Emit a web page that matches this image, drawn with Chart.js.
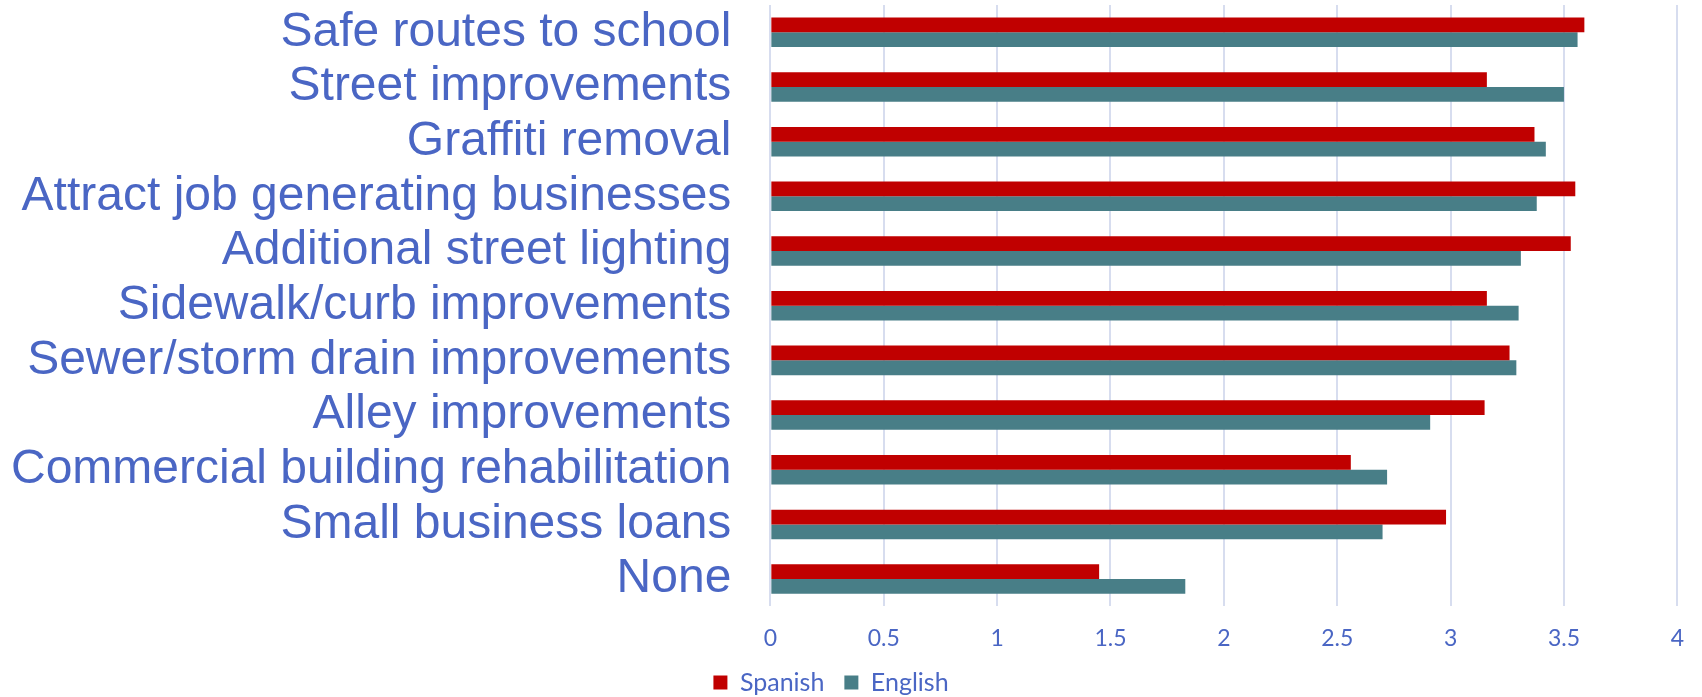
<!DOCTYPE html>
<html>
<head>
<meta charset="utf-8">
<script src="https://cdn.jsdelivr.net/npm/chart.js@4"></script>
<style>
html,body{margin:0;padding:0;background:#fff;}
#wrap{width:1702px;height:697px;position:relative;}
</style>
</head>
<body>
<div id="wrap"><canvas id="c"></canvas></div>
<script>
const categories = [
  "Safe routes to school",
  "Street improvements",
  "Graffiti removal",
  "Attract job generating businesses",
  "Additional street lighting",
  "Sidewalk/curb improvements",
  "Sewer/storm drain improvements",
  "Alley improvements",
  "Commercial building rehabilitation",
  "Small business loans",
  "None"
];
const spanish = [3.59, 3.16, 3.37, 3.55, 3.53, 3.16, 3.26, 3.15, 2.56, 2.98, 1.45];
const english = [3.56, 3.50, 3.42, 3.38, 3.31, 3.30, 3.29, 2.91, 2.72, 2.70, 1.83];
const xTicks = [0, 0.5, 1, 1.5, 2, 2.5, 3, 3.5, 4];

const BLUE = '#4a66c4';
new Chart(document.getElementById('c'), {
  type: 'bar',
  data: {
    labels: categories,
    datasets: [
      { label: 'Spanish', data: spanish, backgroundColor: '#c00000', categoryPercentage: 0.54, barPercentage: 1.0 },
      { label: 'English', data: english, backgroundColor: '#487e87', categoryPercentage: 0.54, barPercentage: 1.0 }
    ]
  },
  options: {
    indexAxis: 'y',
    responsive: true,
    maintainAspectRatio: false,
    animation: false,
    devicePixelRatio: 1,
    layout: { padding: { top: 5, right: 12, left: -28, bottom: -8 } },
    plugins: {
      legend: {
        position: 'bottom',
        labels: {
          boxWidth: 14, boxHeight: 14, color: BLUE,
          font: { family: 'Lato, "Noto Sans", sans-serif', size: 25 },
          padding: 20
        }
      },
      tooltip: { enabled: false }
    },
    scales: {
      x: {
        min: 0, max: 4,
        afterBuildTicks: (ax) => { ax.ticks = xTicks.map(v => ({ value: v })); },
        afterFit: (s) => { s.height -= 20; },
        grid: { color: '#d7ddef', lineWidth: 2, drawTicks: false },
        border: { display: false },
        ticks: {
          color: BLUE, padding: 18,
          callback: (v) => String(v),
          font: { family: 'Lato, "Noto Sans", sans-serif', size: 23 }
        }
      },
      y: {
        afterFit: (s) => { s.paddingTop = 0; s.paddingBottom = 0; },
        grid: { display: false, drawTicks: false },
        border: { display: false },
        ticks: {
          color: BLUE, padding: 39, autoSkip: false,
          font: { family: '"Liberation Sans", Arial, sans-serif', size: 48 }
        }
      }
    }
  }
});
</script>
</body>
</html>
